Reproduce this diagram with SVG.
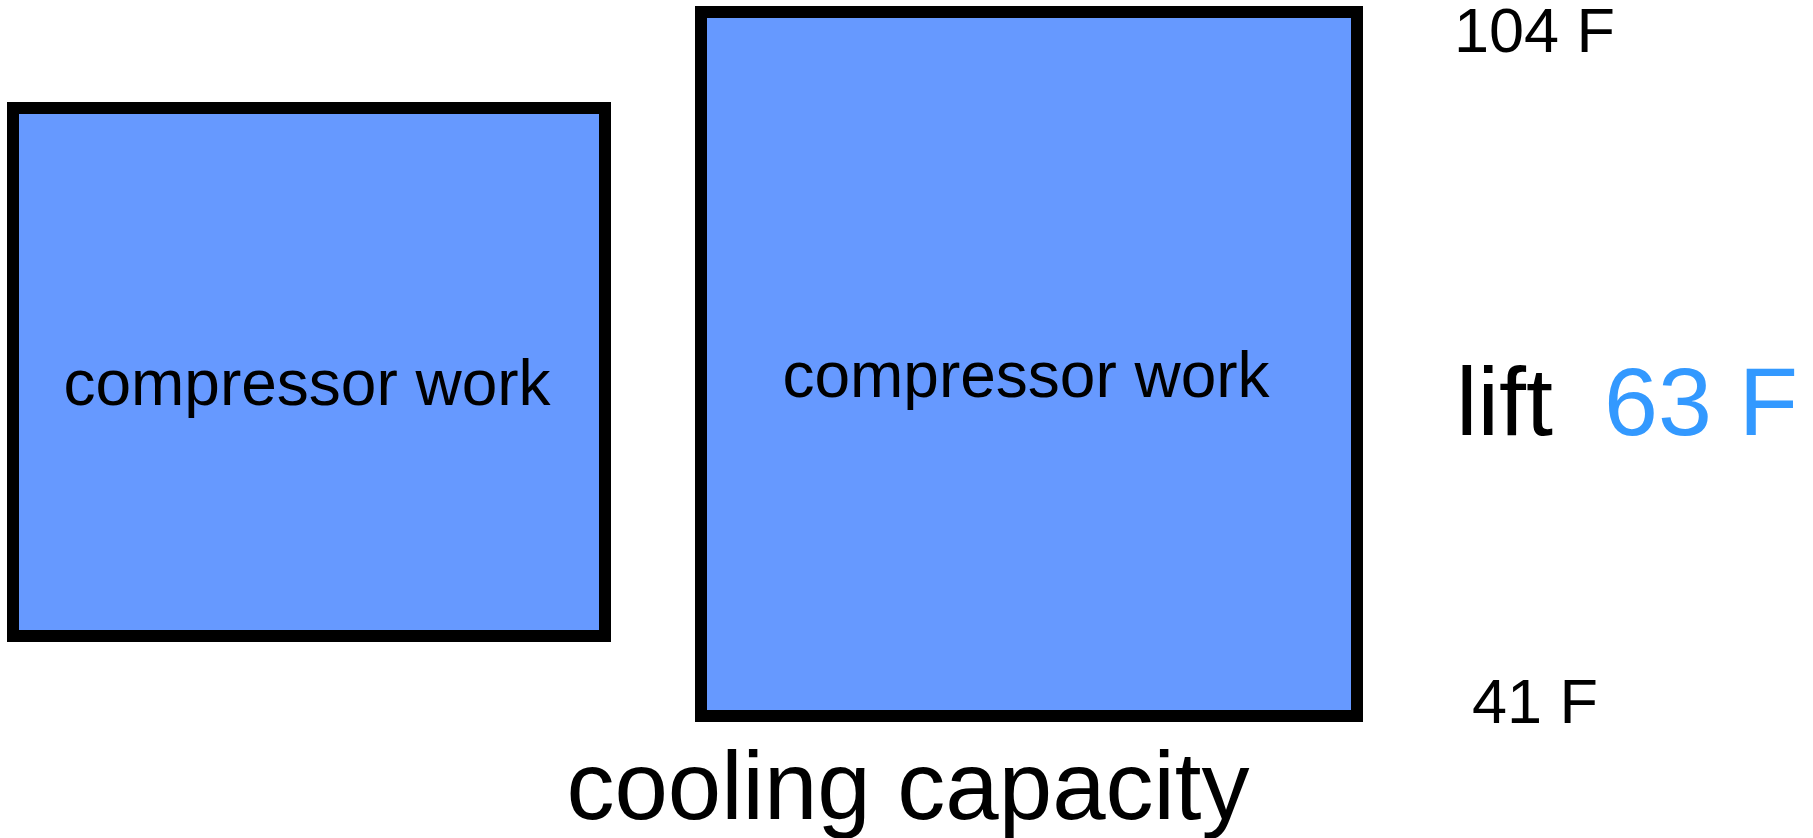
<svg xmlns="http://www.w3.org/2000/svg" width="1813" height="838" viewBox="0 0 1813 838">
<style>
.box{fill:#6699FF;stroke:#000;stroke-width:12}
.t{font-family:"Liberation Sans",Arial,sans-serif;fill:#000}
</style>
<rect width="1813" height="838" fill="#fff"/>
<g id="box-left">
<rect class="box" x="13" y="108" width="592" height="528"/>
<text class="t" x="307" y="405" font-size="64" text-anchor="middle">compressor work</text>
</g>
<g id="box-right">
<rect class="box" x="701" y="12" width="656" height="704"/>
<text class="t" x="1026" y="397" font-size="64" text-anchor="middle">compressor work</text>
</g>
<g id="connectors"></g>
<g id="labels">
<text class="t" x="1454" y="52" font-size="63">104 F</text>
<text class="t" x="1472" y="723" font-size="63">41 F</text>
<text class="t" y="435" font-size="97"><tspan x="1456">lift</tspan><tspan x="1604" fill="#3399FF">63 F</tspan></text>
<text class="t" x="908" y="819" font-size="96" text-anchor="middle">cooling capacity</text>
</g>
</svg>
